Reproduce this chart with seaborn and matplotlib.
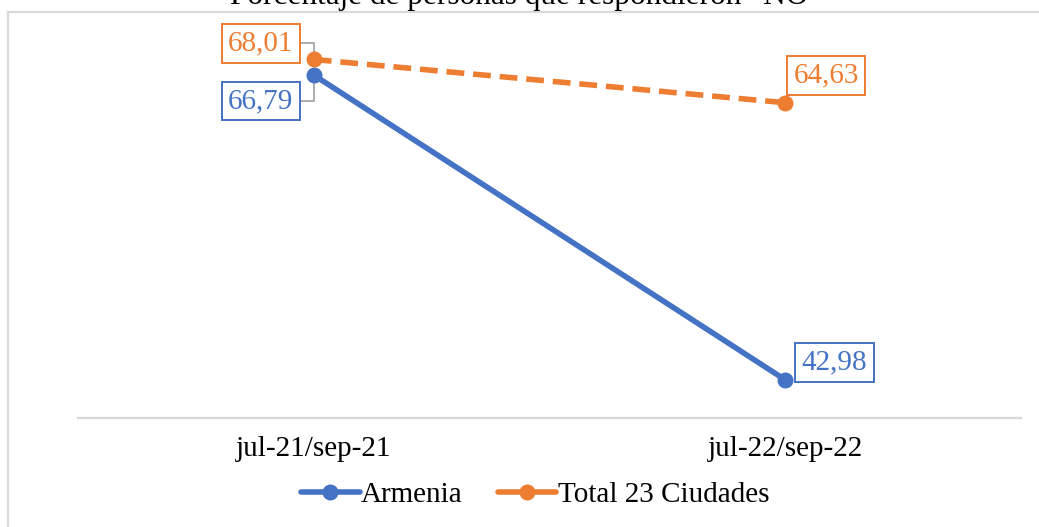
import pandas as pd
import matplotlib.pyplot as plt
import seaborn as sns
from matplotlib.lines import Line2D

# data
periods = ['jul-21/sep-21', 'jul-22/sep-22']
armenia = [66.79, 42.98]
total_23 = [68.01, 64.63]
series_names = ['Armenia', 'Total 23 Ciudades']
title = 'Porcentaje de personas que respondieron \u201cNO\u201d'

df = pd.DataFrame({
    'periodo': periods * 2,
    'valor': armenia + total_23,
    'serie': [series_names[0]] * 2 + [series_names[1]] * 2,
})

sns.set_theme(style='white')
plt.rcParams['font.family'] = ['Liberation Serif', 'DejaVu Serif']
plt.rcParams['text.color'] = 'black'

blue = '#4472C4'
orange = '#ED7D31'
gray = '#d9d9d9'
lw = 4.0
ms = 11.5

fig = plt.figure(figsize=(10.39, 5.27), dpi=100)
ax = fig.add_axes([0.0751, 0.2068, 0.9076, 0.7287])

sns.lineplot(data=df, x='periodo', y='valor', hue='serie', style='serie',
             palette={series_names[0]: blue, series_names[1]: orange},
             dashes={series_names[0]: '', series_names[1]: (3.2, 1.6)},
             markers={series_names[0]: 'o', series_names[1]: 'o'},
             markersize=ms, markeredgewidth=0, linewidth=lw,
             ax=ax, legend=False)

ax.set_xlim(-0.5, 1.5)
ax.set_ylim(40, 70)
ax.set_xlabel('')
ax.set_ylabel('')
ax.set_yticks([])
ax.tick_params(axis='x', length=0, pad=13, labelsize=21, colors='black')
for s in ['top', 'left', 'right']:
    ax.spines[s].set_visible(False)
ax.spines['bottom'].set_color(gray)
ax.spines['bottom'].set_linewidth(1.6)

# data labels (offsets in pixels)
labels = [
    (0, total_23[0], orange, (-53, 16), True),
    (0, armenia[0], blue, (-53, -26), True),
    (1, total_23[1], orange, (41, 27), False),
    (1, armenia[1], blue, (49, 17), False),
]
for xi, v, col, off, leader in labels:
    kw = {}
    if leader:
        kw['arrowprops'] = dict(arrowstyle='-', color='#a6a6a6', lw=1.3,
                                connectionstyle='angle,angleA=0,angleB=90,rad=0',
                                shrinkA=0, shrinkB=0, relpos=(1, 0.5))
    ax.annotate(f'{v:.2f}'.replace('.', ','), xy=(xi, v), xytext=off,
                textcoords='offset pixels', ha='center', va='center',
                fontsize=21, color=col, zorder=1,
                bbox=dict(boxstyle='square,pad=0.22', fc='white', ec=col, lw=1.4),
                **kw)

# title partially cut at the top, as in the reference
fig.text(0.506, 1 - 4 / 527, title, ha='center', va='baseline', fontsize=22.5)

# chart area border (left and top only visible)
fig.add_artist(Line2D([8 / 1039, 8 / 1039], [0, 1 - 12 / 527], color=gray, lw=1.6))
fig.add_artist(Line2D([8 / 1039, 1], [1 - 12 / 527, 1 - 12 / 527], color=gray, lw=1.6))

handles = [
    Line2D([], [], color=blue, lw=lw, marker='o', markersize=ms, markeredgewidth=0),
    Line2D([], [], color=orange, lw=lw, marker='o', markersize=ms, markeredgewidth=0),
]
fig.legend(handles, series_names, loc='center', bbox_to_anchor=(0.515, 1 - 495 / 527),
           ncol=2, frameon=False, fontsize=21, handlelength=2.0,
           handletextpad=0.05, columnspacing=1.2)

fig.savefig('out.png', dpi=100, facecolor='white')
